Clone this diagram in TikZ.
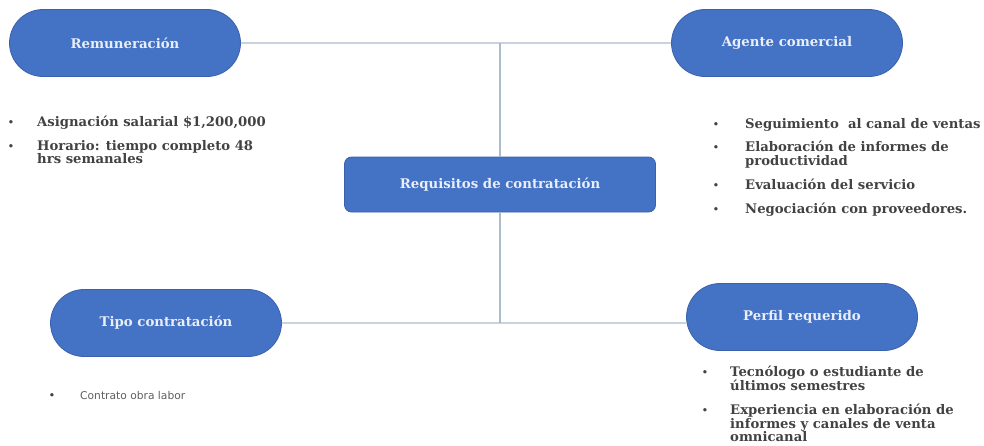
\documentclass[tikz,border=0pt]{standalone}
\usepackage{fontspec}
\setmainfont{DejaVu Serif}
\setsansfont{DejaVu Sans}
\usepackage{tikz}
\usetikzlibrary{positioning,shapes.misc}
\definecolor{pillblue}{RGB}{68,114,196}
\definecolor{pillline}{RGB}{58,98,172}
\definecolor{linkgray}{RGB}{172,187,204}
\definecolor{listgray}{RGB}{66,66,66}
\tikzset{
  pill/.style={rounded rectangle, draw=pillline, fill=pillblue, line width=0.8pt,
               minimum width=231pt, minimum height=67pt, inner sep=0pt,
               text=white!88!pillblue, font=\bfseries\fontsize{13.3}{15}\selectfont},
  reqbox/.style={rectangle, rounded corners=7pt, draw=pillline, fill=pillblue,
                 line width=0.8pt, minimum width=311pt, minimum height=55pt,
                 text=white!88!pillblue, font=\bfseries\fontsize{13.3}{15}\selectfont},
  link/.style={linkgray, line width=1.4pt},
  itemtxt/.style={anchor=north west, align=left, inner sep=0pt, text=listgray,
                  font=\bfseries\fontsize{13.2}{13.5}\selectfont},
  smalltxt/.style={anchor=west, inner sep=0pt, text=listgray!85,
                   font=\sffamily\fontsize{10.7}{11}\selectfont},
  bdot/.style={inner sep=0pt, text=listgray, font=\fontsize{11.5}{12}\selectfont},
}
\begin{document}
\begin{tikzpicture}[x=1pt,y=-1pt]
  \useasboundingbox (0,0) rectangle (984,445);
  % nodos principales
  \node[pill] (rem) at (125,43) {Remuneración};
  \node[pill] (agente) at (787,43) {Agente comercial};
  \node[reqbox] (req) at (500,184.5) {Requisitos de contratación};
  \node[pill] (tipo) at (166,323) {Tipo contratación};
  \node[pill] (perfil) at (802,317) {Perfil requerido};
  % conectores
  \coordinate (jtop) at (req |- rem);
  \coordinate (jbot) at (req |- tipo);
  \draw[link] (rem) -- (agente);
  \draw[link] (jtop) -- (req);
  \draw[link] (req) -- (jbot);
  \draw[link] (tipo) -- (tipo -| perfil.west);
  % lista remuneracion
  \node[bdot] (b1) at (11,124) {•};
  \node[itemtxt] (t1) at (37,116) {Asignación salarial \$1,200,000};
  \node[bdot] (b2) at (11,148) {•};
  \node[itemtxt] (t2) at (37,140) {Horario: tiempo completo 48\\hrs semanales};
  % lista agente
  \node[bdot] (b3) at (716,126) {•};
  \node[itemtxt] (t3) at (745,118) {Seguimiento\ \ al canal de ventas};
  \node[bdot] (b4) at (716,149) {•};
  \node[itemtxt] (t4) at (745,141) {Elaboración de informes de\\productividad};
  \node[bdot] (b5) at (716,187) {•};
  \node[itemtxt] (t5) at (745,179) {Evaluación del servicio};
  \node[bdot] (b6) at (716,211) {•};
  \node[itemtxt] (t6) at (745,203) {Negociación con proveedores.};
  % lista tipo
  \node[bdot] (b7) at (52,397) {•};
  \node[smalltxt] (t7) at (80,396) {Contrato obra labor};
  % lista perfil
  \node[bdot] (b8) at (705,374) {•};
  \node[itemtxt] (t8) at (730,366) {Tecnólogo o estudiante de\\últimos semestres};
  \node[bdot] (b9) at (705,412) {•};
  \node[itemtxt] (t9) at (730,404) {Experiencia en elaboración de\\informes y canales de venta\\omnicanal};
\end{tikzpicture}
\end{document}
